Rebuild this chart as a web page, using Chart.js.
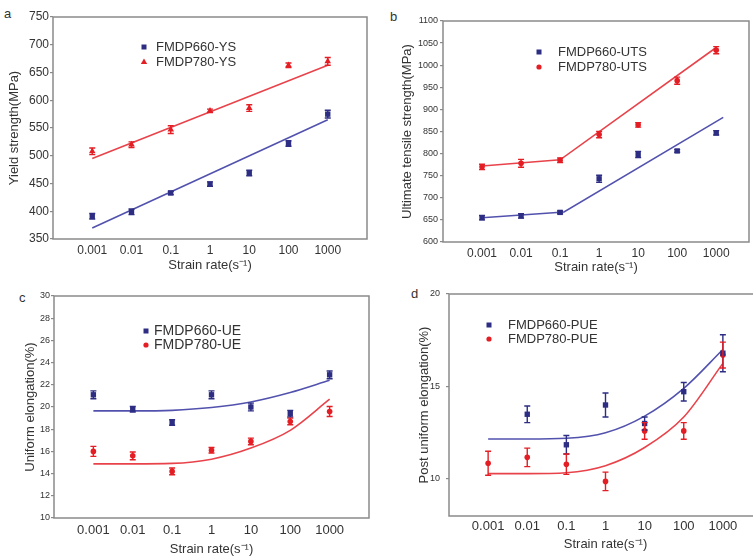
<!DOCTYPE html>
<html>
<head>
<meta charset="utf-8">
<script src="https://cdn.jsdelivr.net/npm/chart.js@4.4.1/dist/chart.umd.min.js"></script>
<style>
  html, body { margin: 0; padding: 0; background: #fff; overflow: hidden; }
  body { width: 753px; height: 557px; position: relative; }
  canvas { position: absolute; }
  .tag { position: absolute; font: 13px "Liberation Sans", Arial, sans-serif; color: #333; line-height: 13px; }
</style>
</head>
<body>
<div class="tag" style="left:4px;top:7px">a</div>
<div class="tag" style="left:390px;top:10px">b</div>
<div class="tag" style="left:19px;top:291px">c</div>
<div class="tag" style="left:411px;top:287px">d</div>
<canvas id="chartA" width="375" height="275" style="left:0;top:0"></canvas>
<canvas id="chartB" width="373" height="275" style="left:380px;top:0"></canvas>
<canvas id="chartC" width="375" height="277" style="left:0;top:280px"></canvas>
<canvas id="chartD" width="390" height="277" style="left:380px;top:280px"></canvas>
<script>
// strain rates (s^-1), placed at their log10 positions
const strainLabels = ['0.001', '0.01', '0.1', '1', '10', '100', '1000'];
const logRate = [-3, -2, -1, 0, 1, 2, 3];

// (a) yield strength, MPa
const ys660 = [391, 399, 433, 449, 469, 522, 575];
const ys660Err = [5, 5, 3, 4, 5, 5, 7];
const ys780 = [508, 520, 547, 581, 586, 663, 670];
const ys780Err = [6, 5, 7, 3, 6, 4, 7];
const ysFitX = [-3, 3];
const ys660Fit = [370, 565];
const ys780Fit = [495, 663];

// (b) ultimate tensile strength, MPa
const uts660 = [655, 659, 667, 743, 798, 806, 847];
const uts660Err = [5, 5, 3, 8, 7, 3, 5];
const uts780 = [770, 778, 785, 843, 865, 965, 1034];
const uts780Err = [6, 9, 5, 7, 5, 8, 8];
const uts660FitX = [-3, -0.9, 3.18];
const uts660Fit = [655, 668, 882];
const uts780FitX = [-3, -1, 3];
const uts780Fit = [772, 786, 1040];

// (c) uniform elongation, %
const ue660 = [21.1, 19.8, 18.6, 21.1, 20.0, 19.4, 22.9];
const ue660Err = [0.35, 0.25, 0.25, 0.35, 0.35, 0.3, 0.35];
const ue780 = [16.0, 15.6, 14.2, 16.1, 16.9, 18.7, 19.6];
const ue780Err = [0.45, 0.35, 0.3, 0.25, 0.3, 0.3, 0.45];
const ue660Fit = [19.65, 19.65, 19.7, 19.95, 20.45, 21.3, 22.4];
const ue780Fit = [14.88, 14.88, 14.92, 15.3, 16.3, 17.9, 20.7];

// (d) post uniform elongation, %
const pue660 = [null, 13.5, 11.85, 14.0, 13.0, 14.72, 16.8];
const pue660Err = [0, 0.45, 0.5, 0.65, 0.35, 0.5, 1.0];
const pue780 = [10.85, 11.17, 10.8, 9.87, 12.6, 12.6, 16.7];
const pue780Err = [0.65, 0.5, 0.55, 0.5, 0.45, 0.45, 0.7];
const pue660Fit = [12.16, 12.16, 12.2, 12.5, 13.4, 14.9, 17.0];
const pue780Fit = [10.29, 10.29, 10.34, 10.72, 11.7, 13.35, 16.25];

const BLUE = '#2d2e83', BLUE_LINE = '#5252ae';
const RED = '#e31e24', RED_LINE = '#e8434a';
const AXIS = '#8a8a8a';
const FONT = '"Liberation Sans", Arial, sans-serif';

Chart.defaults.font.family = FONT;
Chart.defaults.color = '#333';

function pts(xs, ys) {
    return xs.map((x, i) => ({ x: x, y: ys[i] }));
}

function marks(label, ys, err, color, style) {
    return {
        label: label, data: pts(logRate, ys), err: err,
        pointStyle: style, pointRadius: style === 'circle' ? 2.8 : 3.8,
        backgroundColor: color, borderColor: color, borderWidth: 0,
        showLine: false, order: 0
    };
}

function fit(xs, ys, color, curved) {
    return {
        data: pts(xs, ys), borderColor: color, borderWidth: 1.6,
        pointRadius: 0, showLine: true, fill: false,
        cubicInterpolationMode: curved ? 'monotone' : 'default',
        order: 1
    };
}

// error bars, frame and in-plot legend
const extras = {
    id: 'extras',
    afterDatasetsDraw(chart) {
        const ctx = chart.ctx, xs = chart.scales.x, ys = chart.scales.y;
        chart.data.datasets.forEach(ds => {
            if (!ds.err) return;
            ctx.save();
            ctx.strokeStyle = ds.borderColor;
            ctx.lineWidth = 1.4;
            ds.data.forEach((p, i) => {
                if (p.y == null || !ds.err[i]) return;
                const x = xs.getPixelForValue(p.x);
                const y1 = ys.getPixelForValue(p.y - ds.err[i]);
                const y2 = ys.getPixelForValue(p.y + ds.err[i]);
                ctx.beginPath();
                ctx.moveTo(x, y1); ctx.lineTo(x, y2);
                ctx.moveTo(x - 3, y1); ctx.lineTo(x + 3, y1);
                ctx.moveTo(x - 3, y2); ctx.lineTo(x + 3, y2);
                ctx.stroke();
            });
            ctx.restore();
        });
    },
    afterDraw(chart, args, opts) {
        const ctx = chart.ctx, a = chart.chartArea;
        ctx.save();
        ctx.strokeStyle = AXIS;
        ctx.lineWidth = 1.5;
        ctx.strokeRect(a.left, a.top, a.right - a.left, a.bottom - a.top);

        ctx.font = opts.fontSize + 'px ' + FONT;
        ctx.textBaseline = 'middle';
        ctx.textAlign = 'left';
        let row = 0;
        chart.data.datasets.forEach(ds => {
            if (!ds.err) return;
            const y = opts.rows[row++], x = opts.markX;
            ctx.fillStyle = ds.backgroundColor;
            ctx.beginPath();
            if (ds.pointStyle === 'rect') {
                ctx.rect(x - 2.5, y - 2.5, 5, 5);
            } else if (ds.pointStyle === 'triangle') {
                ctx.moveTo(x, y - 3.5); ctx.lineTo(x + 3.2, y + 2); ctx.lineTo(x - 3.2, y + 2);
                ctx.closePath();
            } else {
                ctx.arc(x, y, 2.6, 0, Math.PI * 2);
            }
            ctx.fill();
            ctx.fillStyle = '#333';
            ctx.fillText(ds.label, opts.textX, y);
        });
        ctx.restore();
    }
};

function makePanel(id, p) {
    new Chart(document.getElementById(id), {
        type: 'scatter',
        data: { datasets: p.datasets },
        options: {
            responsive: false,
            animation: false,
            devicePixelRatio: 1,
            layout: { padding: { top: p.padTop, right: p.padRight, left: 0, bottom: 0 } },
            plugins: {
                legend: { display: false },
                tooltip: { enabled: false },
                extras: p.legend
            },
            scales: {
                x: {
                    type: 'linear', min: -4, max: p.xMax,
                    afterBuildTicks: s => { s.ticks = logRate.map(v => ({ value: v })); },
                    afterFit: s => { s.height = p.xh; },
                    grid: { display: false, drawTicks: false },
                    border: { display: false },
                    ticks: {
                        autoSkip: false, maxRotation: 0, padding: p.xPad,
                        font: { size: p.xTickSize },
                        callback: v => strainLabels[logRate.indexOf(v)]
                    },
                    title: {
                        display: true, text: 'Strain rate(s\u207B\u00B9)',
                        font: { size: 13 }, padding: { top: 0, bottom: p.xTitlePad }
                    }
                },
                y: {
                    min: p.yMin, max: p.yMax,
                    afterBuildTicks: p.yTicks ? (s => { s.ticks = p.yTicks.map(v => ({ value: v })); }) : undefined,
                    afterFit: s => { s.width = p.yw; },
                    grid: { drawOnChartArea: false, drawTicks: true, tickLength: 3, color: AXIS, lineWidth: 1.2 },
                    border: { display: false },
                    ticks: {
                        stepSize: p.yStep, padding: p.yPad, font: { size: p.yTickSize },
                        callback: v => String(v)
                    },
                    title: {
                        display: true, text: p.yTitle,
                        font: { size: 13 }, padding: { top: p.yTitlePad, bottom: 0 }
                    }
                }
            }
        },
        plugins: [extras]
    });
}

makePanel('chartA', {
    datasets: [
        marks('FMDP660-YS', ys660, ys660Err, BLUE, 'rect'),
        marks('FMDP780-YS', ys780, ys780Err, RED, 'triangle'),
        fit(ysFitX, ys660Fit, BLUE_LINE, false),
        fit(ysFitX, ys780Fit, RED_LINE, false)
    ],
    padTop: 17, padRight: 8, yw: 53, xh: 36, xMax: 4,
    yMin: 350, yMax: 750, yStep: 50, yTickSize: 12, yPad: 1,
    xTickSize: 12, xPad: 4, xTitlePad: 2, yTitlePad: 7,
    yTitle: 'Yield strength(MPa)',
    legend: { markX: 144, textX: 156, rows: [47, 62], fontSize: 13 }
});

makePanel('chartB', {
    datasets: [
        marks('FMDP660-UTS', uts660, uts660Err, BLUE, 'rect'),
        marks('FMDP780-UTS', uts780, uts780Err, RED, 'circle'),
        fit(uts660FitX, uts660Fit, BLUE_LINE, false),
        fit(uts780FitX, uts780Fit, RED_LINE, false)
    ],
    padTop: 21, padRight: 2, yw: 63, xh: 33, xMax: 3.84,
    yMin: 600, yMax: 1100, yStep: 50, yTickSize: 9, yPad: 2,
    xTickSize: 12, xPad: 4, xTitlePad: 0, yTitlePad: 20,
    yTitle: 'Ultimate tensile strength(MPa)',
    legend: { markX: 159, textX: 178, rows: [52, 67], fontSize: 13 }
});

makePanel('chartC', {
    datasets: [
        marks('FMDP660-UE', ue660, ue660Err, BLUE, 'rect'),
        marks('FMDP780-UE', ue780, ue780Err, RED, 'circle'),
        fit(logRate, ue660Fit, BLUE_LINE, true),
        fit(logRate, ue780Fit, RED_LINE, true)
    ],
    padTop: 16, padRight: 6, yw: 54, xh: 39, xMax: 4,
    yMin: 10, yMax: 30, yStep: 2, yTickSize: 9, yPad: 1,
    xTickSize: 13, xPad: 5, xTitlePad: 0, yTitlePad: 23,
    yTitle: 'Uniform elongation(%)',
    legend: { markX: 146, textX: 154, rows: [51, 65], fontSize: 14 }
});

makePanel('chartD', {
    datasets: [
        marks('FMDP660-PUE', pue660, pue660Err, BLUE, 'rect'),
        marks('FMDP780-PUE', pue780, pue780Err, RED, 'circle'),
        fit(logRate, pue660Fit, BLUE_LINE, true),
        fit(logRate, pue780Fit, RED_LINE, true)
    ],
    padTop: 14, padRight: 8, yw: 69, xh: 41, xMax: 4,
    yMin: 8, yMax: 20, yStep: 5, yTicks: [10, 15, 20], yTickSize: 9, yPad: 6,
    xTickSize: 13, xPad: 3, xTitlePad: 5, yTitlePad: 37,
    yTitle: 'Post uniform elongation(%)',
    legend: { markX: 109, textX: 128, rows: [45, 59], fontSize: 13 }
});
</script>
</body>
</html>
